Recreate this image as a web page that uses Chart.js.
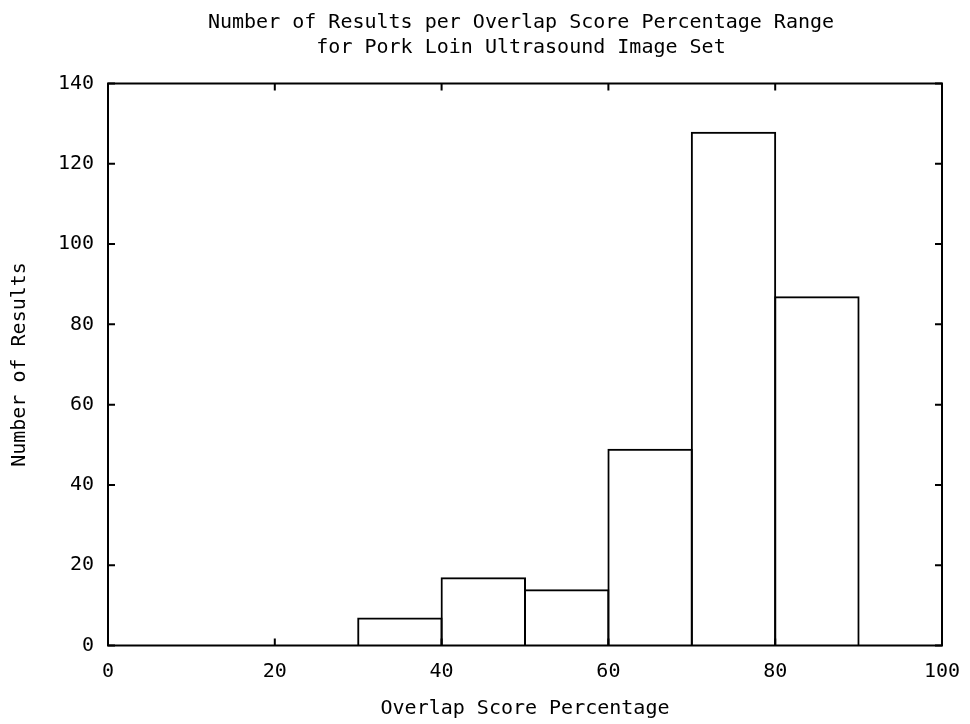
<!DOCTYPE html>
<html>
<head>
<meta charset="utf-8">
<title>Overlap Score Histogram</title>
<script src="https://cdn.jsdelivr.net/npm/chart.js@4.4.1/dist/chart.umd.min.js"></script>
<style>
  html, body { margin: 0; padding: 0; background: #ffffff; }
  #wrap { width: 970px; height: 724px; }
</style>
</head>
<body>
<div id="wrap"><canvas id="hist" width="970" height="724"></canvas></div>
<script>
// Histogram bins (overlap score %, 10-point wide) and how many results fall in each
const binStarts = [0, 10, 20, 30, 40, 50, 60, 70, 80];
const binWidth = 10;
const resultCounts = [0, 0, 0, 7, 17, 14, 49, 128, 87];
const xTickValues = [0, 20, 40, 60, 80, 100];
const yTickValues = [0, 20, 40, 60, 80, 100, 120, 140];

const titleLines = [
  'Number of Results per Overlap Score Percentage Range',
  'for Pork Loin Ultrasound Image Set'
];
const xAxisTitle = 'Overlap Score Percentage';
const yAxisTitle = 'Number of Results';

const FONT = 'DejaVu Sans Mono';
const INK = '#000000';
const LINE_W = 2;

// Two-line heading centred over the plot area
const plotTitle = {
  id: 'plotTitle',
  afterDraw(chart) {
    const { ctx, chartArea: a } = chart;
    const cx = (a.left + a.right) / 2 - 4;
    ctx.save();
    ctx.fillStyle = INK;
    ctx.font = '20px "' + FONT + '"';
    ctx.textAlign = 'center';
    ctx.textBaseline = 'alphabetic';
    titleLines.forEach((line, i) => ctx.fillText(line, cx, 28 + i * 25));
    ctx.restore();
  }
};

// Frame around the plot area with inward ticks mirrored on all four sides
const frameAndTicks = {
  id: 'frameAndTicks',
  afterDatasetsDraw(chart) {
    const { ctx, chartArea: a, scales } = chart;
    const len = 7;
    ctx.save();
    ctx.strokeStyle = INK;
    ctx.lineWidth = LINE_W;
    ctx.beginPath();
    for (const v of xTickValues) {
      const px = scales.x.getPixelForValue(v);
      ctx.moveTo(px, a.bottom); ctx.lineTo(px, a.bottom - len);
      ctx.moveTo(px, a.top); ctx.lineTo(px, a.top + len);
    }
    for (const v of yTickValues) {
      const py = scales.y.getPixelForValue(v);
      ctx.moveTo(a.left, py); ctx.lineTo(a.left + len, py);
      ctx.moveTo(a.right, py); ctx.lineTo(a.right - len, py);
    }
    ctx.stroke();
    ctx.strokeRect(a.left, a.top, a.right - a.left, a.bottom - a.top);
    ctx.restore();
  }
};

new Chart(document.getElementById('hist'), {
  type: 'bar',
  data: {
    datasets: [{
      data: binStarts.map((s, i) => ({ x: s + binWidth / 2, y: resultCounts[i] })),
      backgroundColor: 'rgba(255,255,255,0)',
      borderColor: INK,
      borderWidth: LINE_W,
      borderSkipped: 'start',
      // widen each box by one line width so neighbouring outlines share one edge
      barPercentage: 1.024,
      categoryPercentage: 1.0
    }]
  },
  options: {
    responsive: false,
    animation: false,
    devicePixelRatio: 1,
    layout: { padding: { left: 0, right: 28, top: 83.5, bottom: 0 } },
    plugins: {
      legend: { display: false },
      tooltip: { enabled: false },
      title: { display: false }
    },
    scales: {
      x: {
        type: 'linear',
        min: 0,
        max: 100,
        offset: false,
        grid: { display: false, drawTicks: false },
        border: { display: false },
        afterBuildTicks(scale) { scale.ticks = xTickValues.map(v => ({ value: v })); },
        afterFit(scale) {
          scale.height = 78.5;
          scale.paddingLeft = 0;
          scale.paddingRight = 0;
        },
        ticks: {
          color: INK,
          font: { family: FONT, size: 20 },
          padding: 14,
          maxRotation: 0,
          autoSkip: false
        },
        title: {
          display: true,
          text: xAxisTitle,
          color: INK,
          font: { family: FONT, size: 20 },
          padding: { top: 8, bottom: 3 }
        }
      },
      y: {
        min: 0,
        max: 140,
        grid: { display: false, drawTicks: false },
        border: { display: false },
        afterBuildTicks(scale) { scale.ticks = yTickValues.map(v => ({ value: v })); },
        afterFit(scale) { scale.width = 108; },
        ticks: {
          color: INK,
          font: { family: FONT, size: 20 },
          padding: 14
        },
        title: {
          display: true,
          text: yAxisTitle,
          color: INK,
          font: { family: FONT, size: 20 },
          padding: { top: 8, bottom: 0 }
        }
      }
    }
  },
  plugins: [frameAndTicks, plotTitle]
});
</script>
</body>
</html>
